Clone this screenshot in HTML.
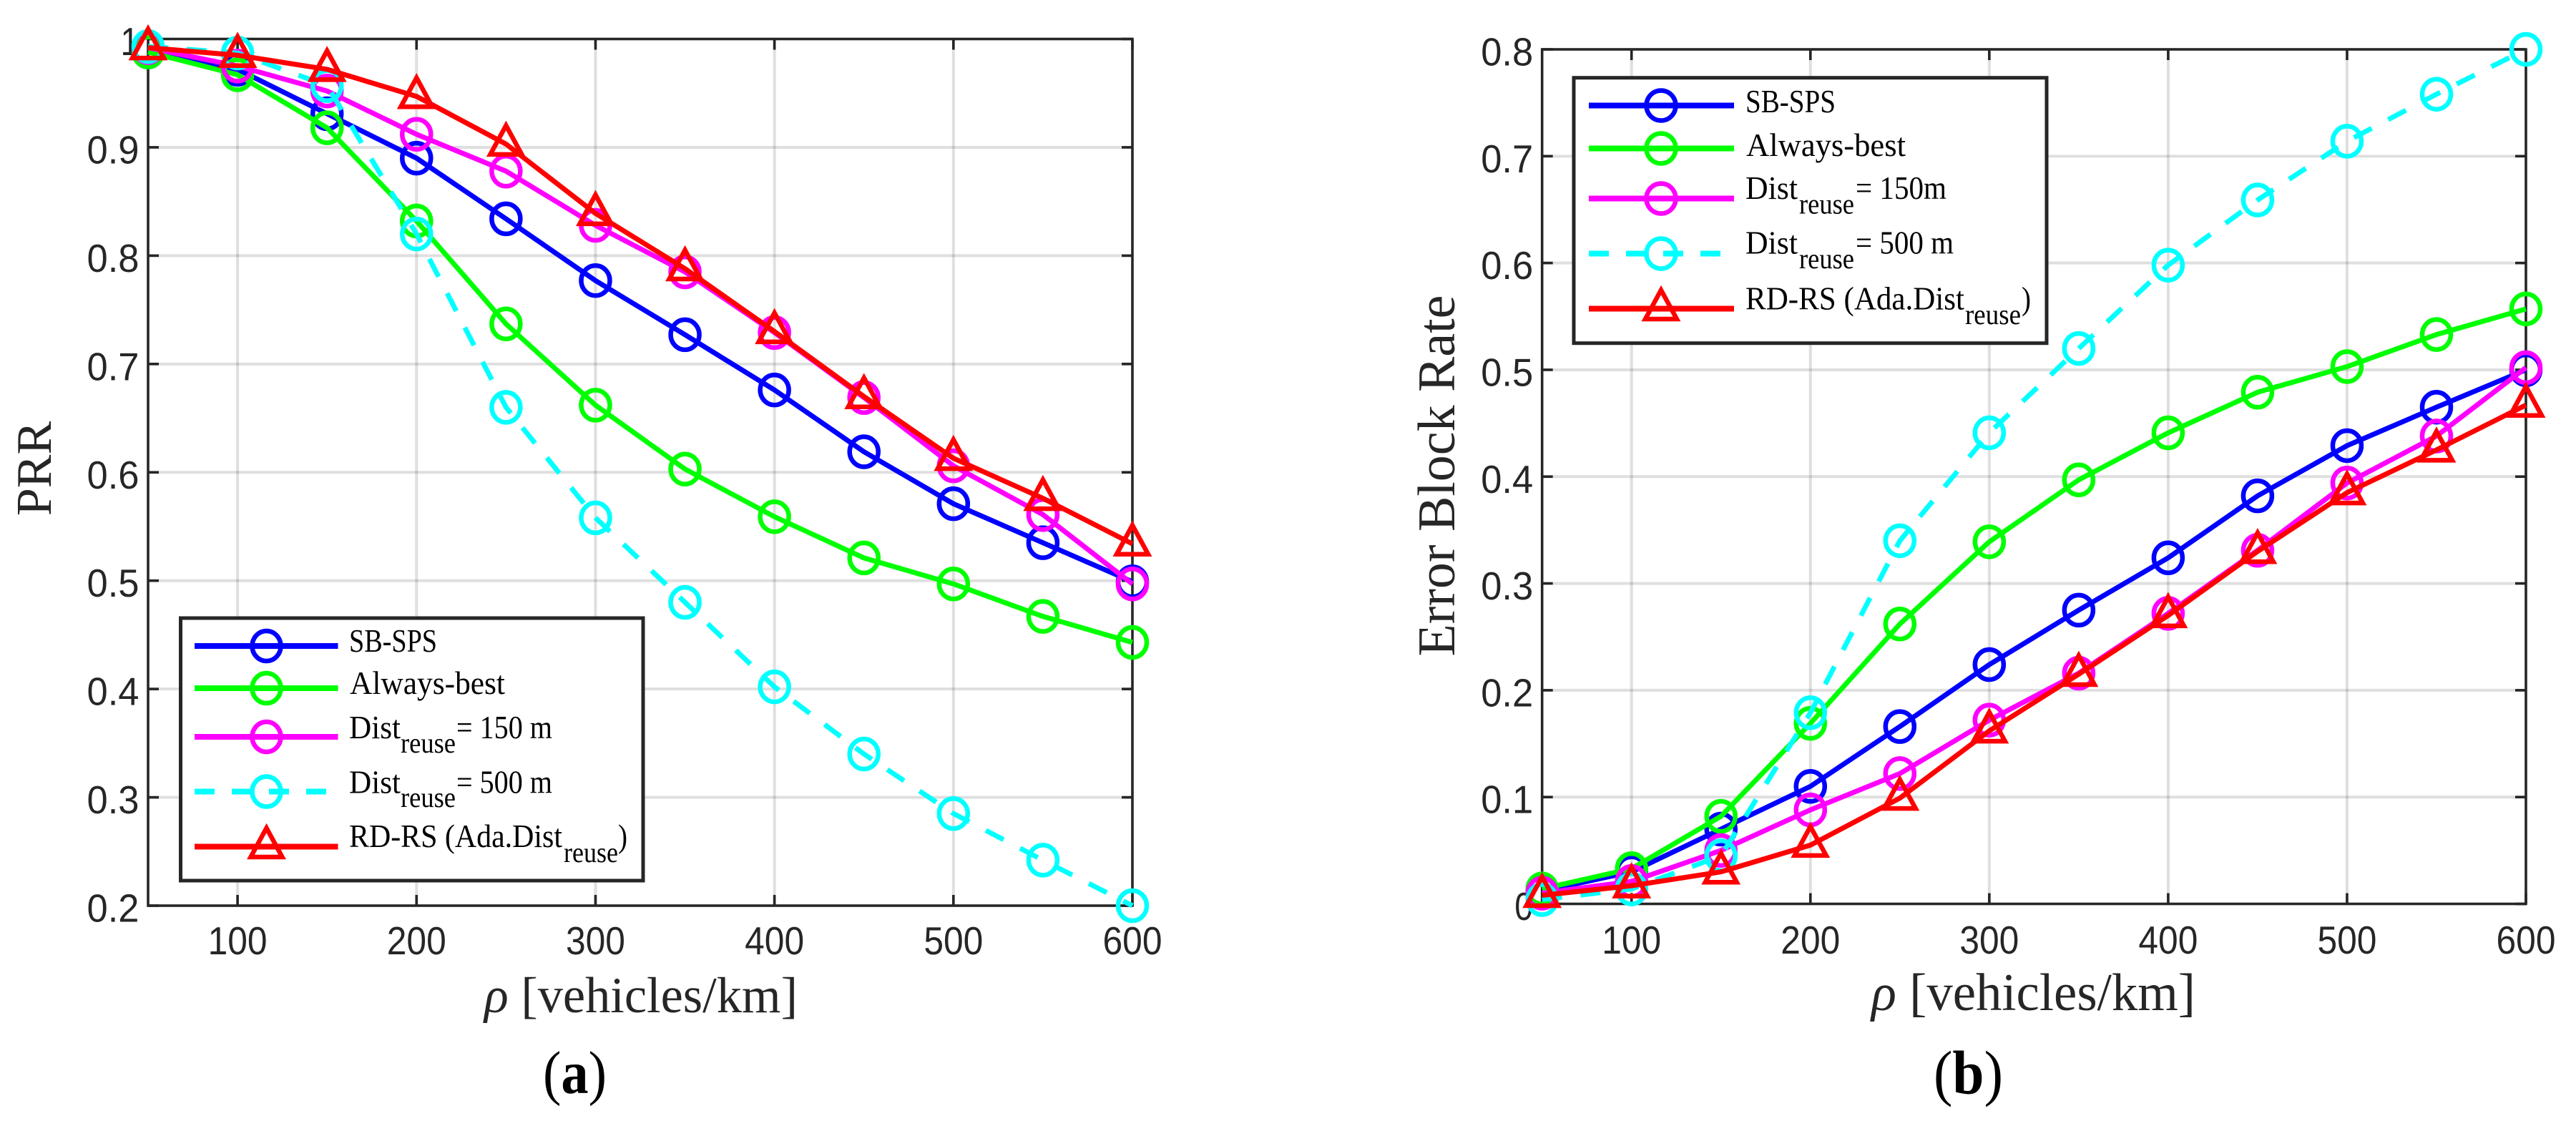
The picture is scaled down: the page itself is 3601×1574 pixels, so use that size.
<!DOCTYPE html>
<html lang="en">
<head>
<meta charset="utf-8">
<title>PRR and Error Block Rate charts</title>
<style>
html,body{margin:0;padding:0;background:#fff;}
svg{display:block;}
text{font-family:"Liberation Serif",serif;fill:#000;}
.tick{font-family:"Liberation Sans",sans-serif;fill:#262626;font-size:55px;}
.title{fill:#262626;}
.leg{font-size:46px;}
.sub{font-size:40px;}
</style>
</head>
<body>
<svg id="figure" xmlns="http://www.w3.org/2000/svg" width="3601" height="1574" viewBox="0 0 3601 1574">
  <rect x="0" y="0" width="3601" height="1574" fill="#ffffff"/>
  <g id="chart-a"></g>
  <g id="chart-b"></g>

  <text class="title" x="71" y="655" font-size="70" text-anchor="middle" transform="rotate(-90 71 655)">PRR</text>
  <text class="title" x="677" y="1415" font-size="71" textLength="438" lengthAdjust="spacingAndGlyphs"><tspan font-style="italic">ρ</tspan> [vehicles/km]</text>
  <text x="759" y="1528" font-size="85" textLength="89" lengthAdjust="spacingAndGlyphs">(<tspan font-weight="bold">a</tspan>)</text>

  <text class="title" x="2033" y="665" font-size="74" text-anchor="middle" textLength="505" lengthAdjust="spacingAndGlyphs" transform="rotate(-90 2033 665)">Error Block Rate</text>
  <text class="title" x="2616" y="1412" font-size="74" textLength="453" lengthAdjust="spacingAndGlyphs"><tspan font-style="italic">ρ</tspan> [vehicles/km]</text>
  <text x="2703" y="1529" font-size="87" textLength="97" lengthAdjust="spacingAndGlyphs">(<tspan font-weight="bold">b</tspan>)</text>

  <!-- Legend A -->
  <g>
    <rect x="252.5" y="864" width="646.5" height="367" fill="#fff" stroke="#262626" stroke-width="5"/>
    <g>
      <line x1="272" x2="472.5" y1="903" y2="903" stroke="#0000ff" stroke-width="8"/>
      <ellipse cx="372.5" cy="903" rx="20" ry="21" fill="none" stroke="#0000ff" stroke-width="6.5"/>
      <text class="leg" x="488" y="911" textLength="123" lengthAdjust="spacingAndGlyphs">SB-SPS</text>
    </g>
    <g>
      <line x1="272" x2="472.5" y1="962" y2="962" stroke="#00ff00" stroke-width="8"/>
      <ellipse cx="372.5" cy="962" rx="20" ry="21" fill="none" stroke="#00ff00" stroke-width="6.5"/>
      <text class="leg" x="489" y="970" textLength="217" lengthAdjust="spacingAndGlyphs">Always-best</text>
    </g>
    <g>
      <line x1="272" x2="472.5" y1="1030" y2="1030" stroke="#ff00ff" stroke-width="8"/>
      <ellipse cx="372.5" cy="1030" rx="20" ry="21" fill="none" stroke="#ff00ff" stroke-width="6.5"/>
      <text class="leg" x="488" y="1032" textLength="72" lengthAdjust="spacingAndGlyphs">Dist</text>
      <text class="sub" x="560" y="1052" textLength="77" lengthAdjust="spacingAndGlyphs">reuse</text>
      <text class="leg" x="638" y="1032" textLength="134" lengthAdjust="spacingAndGlyphs">= 150 m</text>
    </g>
    <g>
      <line x1="272" x2="472.5" y1="1106.5" y2="1106.5" stroke="#00ffff" stroke-width="8" stroke-dasharray="28 24"/>
      <ellipse cx="372.5" cy="1106.5" rx="20" ry="21" fill="none" stroke="#00ffff" stroke-width="6.5"/>
      <text class="leg" x="488" y="1108.5" textLength="72" lengthAdjust="spacingAndGlyphs">Dist</text>
      <text class="sub" x="560" y="1128" textLength="77" lengthAdjust="spacingAndGlyphs">reuse</text>
      <text class="leg" x="638" y="1108.5" textLength="134" lengthAdjust="spacingAndGlyphs">= 500 m</text>
    </g>
    <g>
      <line x1="272" x2="472.5" y1="1183.5" y2="1183.5" stroke="#ff0000" stroke-width="8"/>
      <polygon points="372.5,1157.5 350.5,1198 394.5,1198" fill="none" stroke="#ff0000" stroke-width="6.5"/>
      <text class="leg" x="488" y="1184" textLength="298" lengthAdjust="spacingAndGlyphs">RD-RS (Ada.Dist</text>
      <text class="sub" x="788" y="1205" textLength="76" lengthAdjust="spacingAndGlyphs">reuse</text>
      <text class="leg" x="864" y="1184" textLength="13" lengthAdjust="spacingAndGlyphs">)</text>
    </g>
  </g>

  <!-- Legend B -->
  <g>
    <rect x="2200" y="108.7" width="661" height="371" fill="#fff" stroke="#262626" stroke-width="5"/>
    <g>
      <line x1="2221" x2="2424" y1="147.5" y2="147.5" stroke="#0000ff" stroke-width="8"/>
      <ellipse cx="2322" cy="147.5" rx="20.5" ry="21" fill="none" stroke="#0000ff" stroke-width="6.5"/>
      <text class="leg" x="2440" y="157" textLength="126" lengthAdjust="spacingAndGlyphs">SB-SPS</text>
    </g>
    <g>
      <line x1="2221" x2="2424" y1="207.5" y2="207.5" stroke="#00ff00" stroke-width="8"/>
      <ellipse cx="2322" cy="207.5" rx="20.5" ry="21" fill="none" stroke="#00ff00" stroke-width="6.5"/>
      <text class="leg" x="2441" y="218" textLength="223" lengthAdjust="spacingAndGlyphs">Always-best</text>
    </g>
    <g>
      <line x1="2221" x2="2424" y1="277.5" y2="277.5" stroke="#ff00ff" stroke-width="8"/>
      <ellipse cx="2322" cy="277.5" rx="20.5" ry="21" fill="none" stroke="#ff00ff" stroke-width="6.5"/>
      <text class="leg" x="2440" y="278" textLength="73" lengthAdjust="spacingAndGlyphs">Dist</text>
      <text class="sub" x="2515" y="298.5" textLength="77" lengthAdjust="spacingAndGlyphs">reuse</text>
      <text class="leg" x="2594" y="278" textLength="127" lengthAdjust="spacingAndGlyphs">= 150m</text>
    </g>
    <g>
      <line x1="2221" x2="2424" y1="354.5" y2="354.5" stroke="#00ffff" stroke-width="8" stroke-dasharray="28 24"/>
      <ellipse cx="2322" cy="354.5" rx="20.5" ry="21" fill="none" stroke="#00ffff" stroke-width="6.5"/>
      <text class="leg" x="2440" y="354.5" textLength="73" lengthAdjust="spacingAndGlyphs">Dist</text>
      <text class="sub" x="2515" y="375" textLength="77" lengthAdjust="spacingAndGlyphs">reuse</text>
      <text class="leg" x="2594" y="354.5" textLength="137" lengthAdjust="spacingAndGlyphs">= 500 m</text>
    </g>
    <g>
      <line x1="2221" x2="2424" y1="431.5" y2="431.5" stroke="#ff0000" stroke-width="8"/>
      <polygon points="2322,405.5 2300,446 2344,446" fill="none" stroke="#ff0000" stroke-width="6.5"/>
      <text class="leg" x="2440" y="432.5" textLength="306" lengthAdjust="spacingAndGlyphs">RD-RS (Ada.Dist</text>
      <text class="sub" x="2747" y="453" textLength="78" lengthAdjust="spacingAndGlyphs">reuse</text>
      <text class="leg" x="2826" y="432.5" textLength="13" lengthAdjust="spacingAndGlyphs">)</text>
    </g>
  </g>
</svg>
<script>
// Shared x data
const densities = [50, 100, 150, 200, 250, 300, 350, 400, 450, 500, 550, 600];
const xTickValues = [100, 200, 300, 400, 500, 600];
const xTickLabels = ['100', '200', '300', '400', '500', '600'];

// Panel (a): PRR
const prrSbSps = [0.988, 0.972, 0.931, 0.890, 0.834, 0.777, 0.727, 0.676, 0.619, 0.571, 0.535, 0.499];
const prrAlwaysBest = [0.988, 0.967, 0.918, 0.832, 0.737, 0.662, 0.603, 0.559, 0.521, 0.497, 0.467, 0.443];
const prrDist150 = [0.992, 0.975, 0.952, 0.912, 0.878, 0.828, 0.785, 0.729, 0.669, 0.606, 0.561, 0.497];
const prrDist500 = [0.993, 0.987, 0.957, 0.820, 0.660, 0.558, 0.480, 0.402, 0.340, 0.285, 0.242, 0.200];
const prrRdRs = [0.992, 0.985, 0.972, 0.947, 0.903, 0.839, 0.788, 0.730, 0.670, 0.613, 0.576, 0.534];
const prrTickValues = [0.2, 0.3, 0.4, 0.5, 0.6, 0.7, 0.8, 0.9, 1];
const prrTickLabels = ['0.2', '0.3', '0.4', '0.5', '0.6', '0.7', '0.8', '0.9', '1'];

// Panel (b): Error Block Rate
const ebrSbSps = [0.012, 0.030, 0.070, 0.110, 0.166, 0.224, 0.275, 0.324, 0.382, 0.429, 0.465, 0.500];
const ebrAlwaysBest = [0.014, 0.033, 0.082, 0.169, 0.262, 0.339, 0.397, 0.441, 0.479, 0.503, 0.533, 0.557];
const ebrDist150 = [0.010, 0.021, 0.050, 0.088, 0.122, 0.172, 0.216, 0.272, 0.331, 0.394, 0.438, 0.502];
const ebrDist500 = [0.004, 0.014, 0.045, 0.179, 0.340, 0.441, 0.520, 0.598, 0.659, 0.714, 0.758, 0.800];
const ebrRdRs = [0.008, 0.017, 0.030, 0.055, 0.099, 0.162, 0.215, 0.270, 0.330, 0.385, 0.425, 0.467];
const ebrTickValues = [0, 0.1, 0.2, 0.3, 0.4, 0.5, 0.6, 0.7, 0.8];
const ebrTickLabels = ['0', '0.1', '0.2', '0.3', '0.4', '0.5', '0.6', '0.7', '0.8'];

const NS = 'http://www.w3.org/2000/svg';

function make(parent, tag, attrs) {
  const el = document.createElementNS(NS, tag);
  for (const k in attrs) el.setAttribute(k, attrs[k]);
  parent.appendChild(el);
  return el;
}

function drawChart(root, box, yMin, yMax, yVals, yLabs, seriesList) {
  const sx = v => box.left + (v - 50) / 550 * (box.right - box.left);
  const sy = v => box.bottom - (v - yMin) / (yMax - yMin) * (box.bottom - box.top);

  const grid = make(root, 'g', {stroke: '#262626', 'stroke-opacity': '0.15', 'stroke-width': '4'});
  
  
  xTickValues.forEach(v => {
    if (v < 600) make(grid, 'line', {x1: sx(v), x2: sx(v), y1: box.top, y2: box.bottom});
  });
  yVals.forEach(v => {
    if (v > yMin && v < yMax) make(grid, 'line', {x1: box.left, x2: box.right, y1: sy(v), y2: sy(v)});
  });

  const axes = make(root, 'g', {stroke: '#262626', 'stroke-width': '3.6', fill: 'none'});
  
  
  make(axes, 'rect', {x: box.left, y: box.top, width: box.right - box.left, height: box.bottom - box.top});
  xTickValues.forEach(v => {
    make(axes, 'line', {x1: sx(v), x2: sx(v), y1: box.bottom, y2: box.bottom - 15});
    make(axes, 'line', {x1: sx(v), x2: sx(v), y1: box.top, y2: box.top + 15});
  });
  yVals.forEach(v => {
    make(axes, 'line', {x1: box.left, x2: box.left + 15, y1: sy(v), y2: sy(v)});
    make(axes, 'line', {x1: box.right, x2: box.right - 15, y1: sy(v), y2: sy(v)});
  });

  xTickValues.forEach((v, i) => {
    const t = make(root, 'text', {class: 'tick', x: sx(v), y: box.bottom + box.xLabelDrop, 'text-anchor': 'middle', textLength: 83, lengthAdjust: 'spacingAndGlyphs'});
    
    
    t.textContent = xTickLabels[i];
  });
  yVals.forEach((v, i) => {
    const w = yLabs[i].length > 1 ? 73 : 26;
    const t = make(root, 'text', {class: 'tick', x: box.left - 12.5, y: sy(v) + 22.5, 'text-anchor': 'end', textLength: w, lengthAdjust: 'spacingAndGlyphs'});
    
    
    t.textContent = yLabs[i];
  });

  seriesList.forEach(s => {
    const g = make(root, 'g', {fill: 'none', stroke: s.color});
    
    
    const pts = densities.map((d, i) => sx(d) + ',' + sy(s.values[i])).join(' ');
    const line = make(g, 'polyline', {points: pts, 'stroke-width': '7', 'stroke-linejoin': 'round'});
    
    
    if (s.dashed) line.setAttribute('stroke-dasharray', '28 26');
    densities.forEach((d, i) => {
      const cx = sx(d), cy = sy(s.values[i]);
      let m;
      if (s.marker === 'tri') {
        m = make(g, 'polygon', {points: cx + ',' + (cy - 26) + ' ' + (cx - 22) + ',' + (cy + 14.5) + ' ' + (cx + 22) + ',' + (cy + 14.5), 'stroke-width': '6.5'});
      } else {
        m = make(g, 'ellipse', {cx: cx, cy: cy, rx: 20, ry: 21, 'stroke-width': '6.5'});
      }
      
      
    });
  });
}

drawChart(document.getElementById('chart-a'),
  {left: 207, right: 1583, top: 54.5, bottom: 1266, xLabelDrop: 68},
  0.2, 1, prrTickValues, prrTickLabels, [
    {name: 'series-sb-sps', color: '#0000ff', marker: 'o', values: prrSbSps},
    {name: 'series-always-best', color: '#00ff00', marker: 'o', values: prrAlwaysBest},
    {name: 'series-dist-150', color: '#ff00ff', marker: 'o', values: prrDist150},
    {name: 'series-dist-500', color: '#00ffff', marker: 'o', dashed: true, values: prrDist500},
    {name: 'series-rd-rs', color: '#ff0000', marker: 'tri', values: prrRdRs}
  ]);

drawChart(document.getElementById('chart-b'),
  {left: 2155.7, right: 3531, top: 69, bottom: 1263.5, xLabelDrop: 69.5},
  0, 0.8, ebrTickValues, ebrTickLabels, [
    {name: 'series-sb-sps', color: '#0000ff', marker: 'o', values: ebrSbSps},
    {name: 'series-always-best', color: '#00ff00', marker: 'o', values: ebrAlwaysBest},
    {name: 'series-dist-150', color: '#ff00ff', marker: 'o', values: ebrDist150},
    {name: 'series-dist-500', color: '#00ffff', marker: 'o', dashed: true, values: ebrDist500},
    {name: 'series-rd-rs', color: '#ff0000', marker: 'tri', values: ebrRdRs}
  ]);
</script>
</body>
</html>
